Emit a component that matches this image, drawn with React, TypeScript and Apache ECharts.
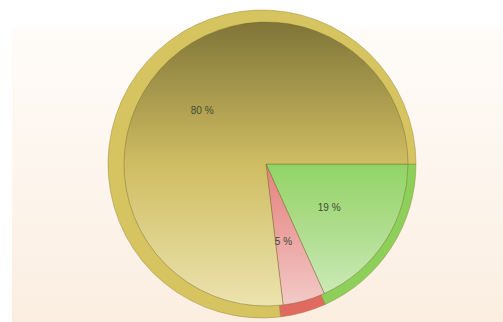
import React, { useEffect, useRef } from "react";
import * as echarts from "echarts";

const sliceValues = [19, 5, 80];
const sliceLabels = ["19 %", "5 %", "80 %"];
const ringColors = ["#8cd05a", "#e06960", "#d5c460"];
const innerTop = ["#92d466", "#e4827d", "#807538"];
const innerMid = ["#aedd8c", "#eba3a0", "#cfbd62"];
const innerBottom = ["#cbeab8", "#f3cac8", "#ece3ae"];

export default function App() {
  const ref = useRef<HTMLDivElement>(null);
  useEffect(() => {
    const chart = echarts.init(ref.current!, null, { renderer: "svg" });
    const grad = (i: number) =>
      i === 2
        ? new echarts.graphic.LinearGradient(
            0,
            23,
            0,
            305,
            [
              { offset: 0, color: innerTop[i] },
              { offset: 0.5, color: innerMid[i] },
              { offset: 1, color: innerBottom[i] },
            ],
            true
          )
        : new echarts.graphic.LinearGradient(0, 0, 0, 1, [
            { offset: 0, color: innerTop[i] },
            { offset: 0.5, color: innerMid[i] },
            { offset: 1, color: innerBottom[i] },
          ]);
    chart.setOption({
      animation: false,
      backgroundColor: "#ffffff",
      graphic: [
        {
          type: "rect",
          z: -10,
          silent: true,
          shape: { x: 12, y: 28, width: 491, height: 294 },
          style: {
            fill: new echarts.graphic.LinearGradient(0, 0, 0, 1, [
              { offset: 0, color: "#fffcf9" },
              { offset: 1, color: "#fbeee1" },
            ]),
          },
        },
      ],
      series: [
        {
          type: "pie",
          center: [262, 164],
          radius: [0, 154],
          startAngle: 0,
          silent: true,
          label: { show: false },
          labelLine: { show: false },
          itemStyle: { borderColor: "rgba(150,130,50,0.45)", borderWidth: 1 },
          data: sliceValues.map((v, i) => ({
            value: v,
            itemStyle: { color: ringColors[i] },
          })),
        },
        {
          type: "pie",
          center: [266, 164],
          radius: [0, 142],
          startAngle: 0,
          silent: true,
          label: { show: false },
          labelLine: { show: false },
          itemStyle: { borderColor: "rgba(120,105,50,0.45)", borderWidth: 1 },
          data: sliceValues.map((v, i) => ({
            value: v,
            itemStyle: { color: grad(i) },
          })),
        },
        {
          type: "pie",
          center: [262, 164],
          radius: [0, 154],
          startAngle: 0,
          silent: true,
          labelLine: { show: false },
          itemStyle: { color: "rgba(0,0,0,0)", borderWidth: 0 },
          label: {
            show: true,
            position: "inside",
            fontFamily: "Arial, Liberation Sans, sans-serif",
            fontSize: 10,
            color: "#434d33",
            formatter: (p: any) => sliceLabels[p.dataIndex],
          },
          data: sliceValues.map((v) => ({ value: v })),
        },
      ],
    });
    return () => chart.dispose();
  }, []);
  return (
    <div
      ref={ref}
      style={{ position: "fixed", left: 0, top: 0, width: 503, height: 322 }}
    />
  );
}
